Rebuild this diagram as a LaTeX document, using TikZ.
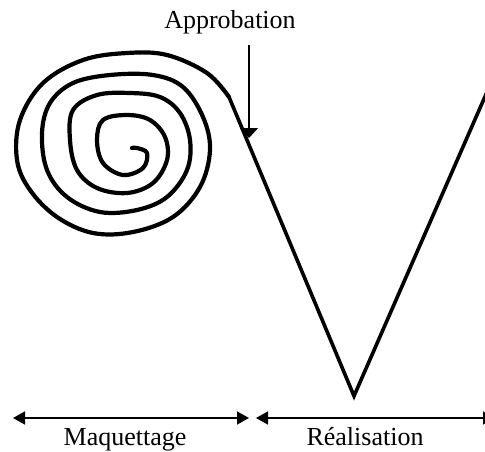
\documentclass[tikz,border=0pt]{standalone}
\usepackage{fontspec}
\setmainfont{Liberation Serif}
\usetikzlibrary{arrows.meta}
\begin{document}
\begin{tikzpicture}[x=1pt,y=-1pt,
  thick line/.style={line width=4.2pt,line join=round,line cap=round},
  dimarrow/.style={line width=1.6pt,{Triangle[length=12pt,width=13pt]}-{Triangle[length=12pt,width=13pt]}},
  label text/.style={font=\fontsize{26}{30}\selectfont,anchor=base}]
\useasboundingbox (0,0) rectangle (485,451);
% V shape
\coordinate (junction) at (229,97);
\coordinate (apex) at (354,396);
\coordinate (rtop) at (487,92);
\draw[line width=3.6pt,line join=miter] (junction) -- (apex) -- (rtop);
% spiral
\draw[thick line] plot[smooth,tension=0.6] coordinates {
 (229,97) (207,73) (167,55) (127,53) (83,60) (43,83) (20,120) (17,160) (30,190) (57,217) (93,233) (133,232) (173,217) (200,187) (210,150) (203,117) (183,87) (153,75) (110,75) (73,83) (50,103) (42,133) (47,170) (67,197) (100,212) (137,210) (167,197) (187,170) (190,140) (180,113) (160,97) (130,93) (97,95) (73,110) (70,140) (77,170) (97,188) (127,193) (153,183) (167,160) (165,137) (150,120) (127,115) (103,120) (97,140) (103,163) (123,175) (143,168) (147,153) (137,148) (132,148)};
% Approbation
\node[label text] (appro) at (230,28) {Approbation};
\coordinate (approTop) at (249,45);
\coordinate (approTip) at (249,138);
\draw[line width=1.5pt,-{Triangle[length=10pt,width=18pt]}] (approTop) -- (approTip);
% bottom arrows
\coordinate (mL) at (13,418);
\coordinate (mR) at (249,418);
\coordinate (rL) at (256,418);
\coordinate (rR) at (495,418);
\draw[dimarrow] (mL) -- (mR);
\draw[dimarrow] (rL) -- (rR);
\node[label text] (maq) at (125,445) {Maquettage};
\node[label text] (real) at (365,445) {Réalisation};
\end{tikzpicture}
\end{document}
